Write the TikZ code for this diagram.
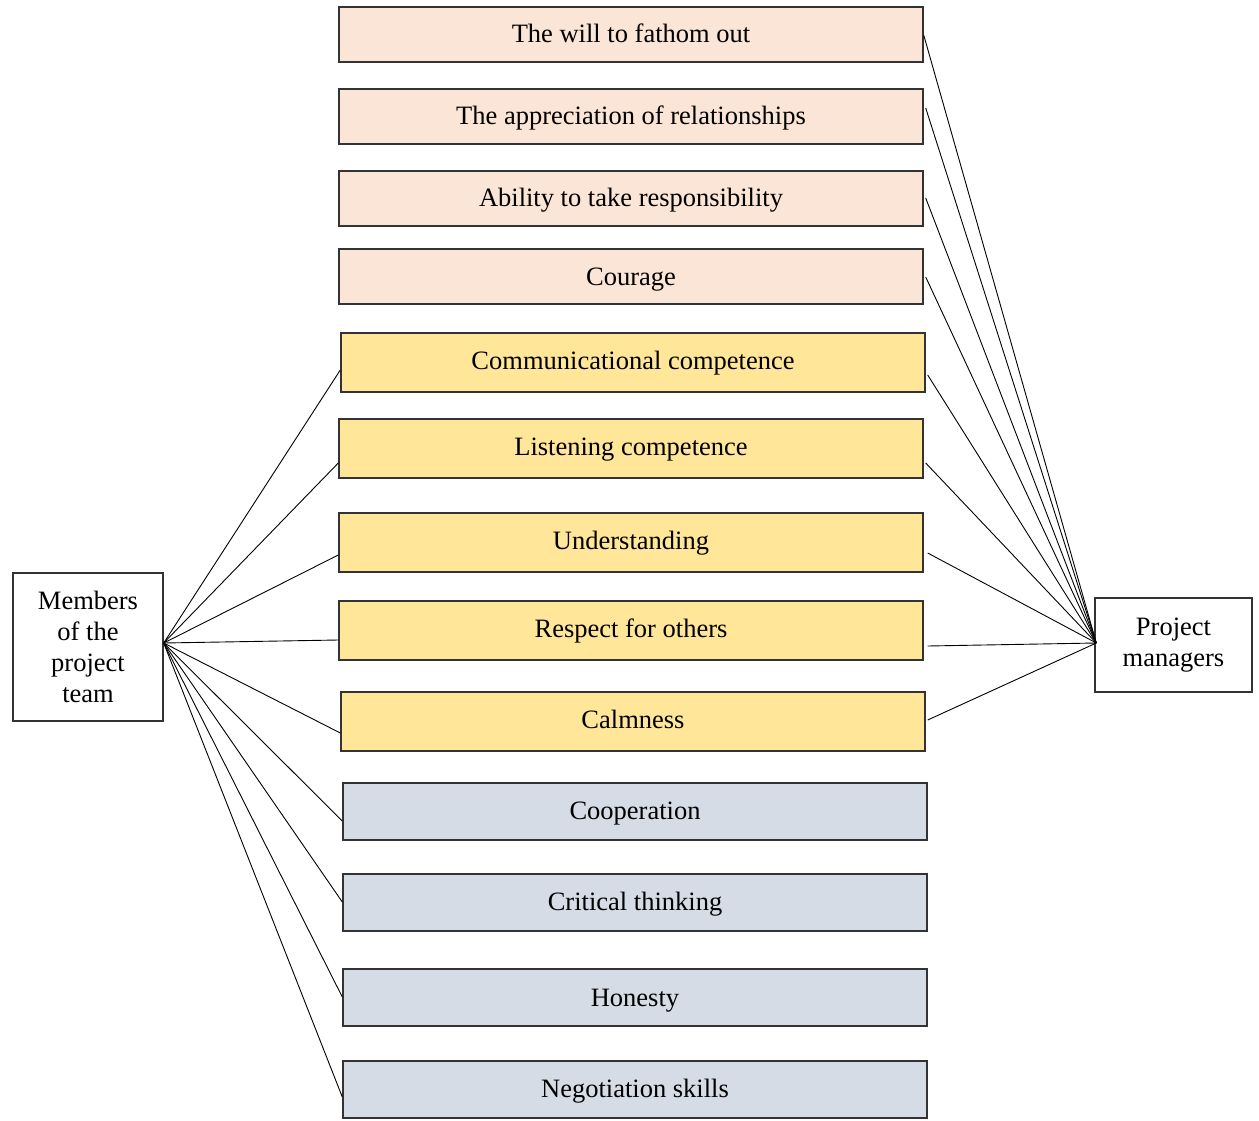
\documentclass[tikz,border=0pt]{standalone}
\usepackage{fontspec}
\setmainfont{Liberation Serif}
\definecolor{peach}{HTML}{FBE5D6}
\definecolor{yel}{HTML}{FFE699}
\definecolor{grayblue}{HTML}{D6DCE5}
\begin{document}
\begin{tikzpicture}[x=1pt,y=-1pt,
  box/.style={draw=black!80, line width=1.4pt, inner sep=0pt},
  pbox/.style={box, fill=peach},
  ybox/.style={box, fill=yel},
  gbox/.style={box, fill=grayblue},
  lbl/.style={inner sep=0pt, anchor=base, font=\fontsize{26.5}{31}\selectfont},
  wbox/.style={box, fill=white, align=center, font=\fontsize{26.5}{31}\selectfont},
  con/.style={draw=black, line width=0.9pt}]
\useasboundingbox (0,0) rectangle (1259,1121);
\node[pbox, minimum width=584, minimum height=55] (b1) at (631,34.5) {};
\node[pbox, minimum width=584, minimum height=55] (b2) at (631,116.5) {};
\node[pbox, minimum width=584, minimum height=55] (b3) at (631,198.5) {};
\node[pbox, minimum width=584, minimum height=55] (b4) at (631,276.5) {};
\node[ybox, minimum width=584, minimum height=59] (b5) at (633,362.5) {};
\node[ybox, minimum width=584, minimum height=59] (b6) at (631,448.5) {};
\node[ybox, minimum width=584, minimum height=59] (b7) at (631,542.5) {};
\node[ybox, minimum width=584, minimum height=59] (b8) at (631,630.5) {};
\node[ybox, minimum width=584, minimum height=59] (b9) at (633,721.5) {};
\node[gbox, minimum width=584, minimum height=57] (b10) at (635,811.5) {};
\node[gbox, minimum width=584, minimum height=57] (b11) at (635,902.5) {};
\node[gbox, minimum width=584, minimum height=57] (b12) at (635,997.5) {};
\node[gbox, minimum width=584, minimum height=57] (b13) at (635,1089.5) {};
\node[lbl] (t1) at (631,43) {The will to fathom out};
\node[lbl] (t2) at (631,125) {The appreciation of relationships};
\node[lbl] (t3) at (631,207) {Ability to take responsibility};
\node[lbl] (t4) at (631,285) {Courage};
\node[lbl] (t5) at (633,369) {Communicational competence};
\node[lbl] (t6) at (631,455) {Listening competence};
\node[lbl] (t7) at (631,549) {Understanding};
\node[lbl] (t8) at (631,637) {Respect for others};
\node[lbl] (t9) at (633,728) {Calmness};
\node[lbl] (t10) at (635,819) {Cooperation};
\node[lbl] (t11) at (635,910) {Critical thinking};
\node[lbl] (t12) at (635,1006) {Honesty};
\node[lbl] (t13) at (635,1097) {Negotiation skills};
\node[wbox, minimum width=150, minimum height=148] (mem) at (88,647) {Members\\of the\\project\\team};
\node[wbox, minimum width=157, minimum height=94] (pm) at (1173.5,645) {Project\\managers};
\coordinate (hl) at ([yshift=4pt]mem.east);
\coordinate (hr) at ([xshift=2pt,yshift=2pt]pm.west);
% left connectors
\draw[con] (hl) -- ([yshift=-7.5pt]b5.west);
\draw[con] (hl) -- ([yshift=-14.5pt]b6.west);
\draw[con] (hl) -- ([yshift=-12.5pt]b7.west);
\draw[con] (hl) -- ([yshift=-9.5pt]b8.west);
\draw[con] (hl) -- ([yshift=-11.5pt]b9.west);
\draw[con] (hl) -- ([yshift=-9.5pt]b10.west);
\draw[con] (hl) -- ([yshift=0.5pt]b11.west);
\draw[con] (hl) -- ([yshift=0.5pt]b12.west);
\draw[con] (hl) -- ([yshift=-7.5pt]b13.west);
% right connectors
\draw[con] (hr) -- ([yshift=-0.5pt]b1.east);
\draw[con] (hr) -- ([xshift=2pt,yshift=8.5pt]b2.east);
\draw[con] (hr) -- ([xshift=2pt,yshift=0.5pt]b3.east);
\draw[con] (hr) -- ([xshift=2pt,yshift=-0.5pt]b4.east);
\draw[con] (hr) -- ([xshift=2pt,yshift=-12.5pt]b5.east);
\draw[con] (hr) -- ([xshift=2pt,yshift=-14.5pt]b6.east);
\draw[con] (hr) -- ([xshift=4pt,yshift=-10.5pt]b7.east);
\draw[con] (hr) -- ([xshift=4pt,yshift=-15.5pt]b8.east);
\draw[con] (hr) -- ([xshift=2pt,yshift=1.5pt]b9.east);
\end{tikzpicture}
\end{document}
